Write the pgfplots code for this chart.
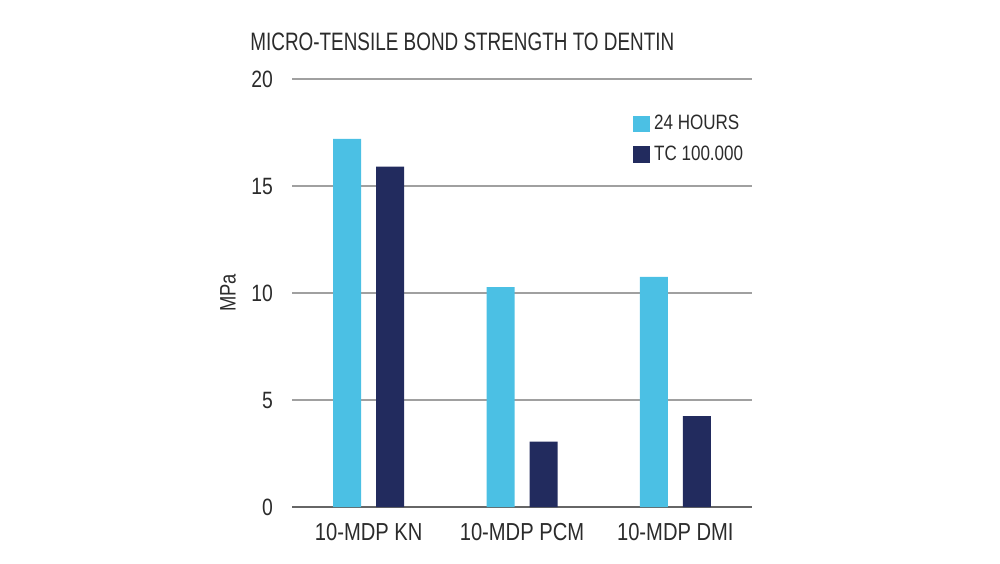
\documentclass[border=0pt]{standalone}
\usepackage{fontspec}
\setmainfont{Liberation Sans}[FakeStretch=0.82]
\newfontfamily\titlefont{Liberation Sans}[FakeStretch=0.75]
\usepackage{pgfplots}
\pgfplotsset{compat=1.18}
\definecolor{lightbar}{HTML}{4BC0E4}
\definecolor{darkbar}{HTML}{222B5E}
\definecolor{gridgray}{HTML}{A0A0A0}
\definecolor{txt}{HTML}{2B2B2B}

\begin{document}
\begin{tikzpicture}
\path[use as bounding box] (-146pt,-28pt) rectangle (354pt,253.5pt);
\begin{axis}[
	at={(0,0)}, anchor=south west,
	width=230pt, height=214pt, scale only axis,
	ybar=7.5pt, bar width=14pt,
	xmin=-0.5, xmax=2.5, ymin=0, ymax=20,
	xtick=data,
	xticklabels={10-MDP KN,10-MDP PCM,10-MDP DMI},
	ytick={0,5,10,15,20},
	/pgf/number format/assume math mode=true,
	major tick length=0pt,
	ymajorgrids,
	grid style={gridgray, line width=0.9pt},
	axis x line*=bottom, axis y line*=left,
	y axis line style={draw=none},
	x axis line style={draw=gray!80!black, line width=0.9pt, -},
	tick label style={text=txt},
	yticklabel style={font=\fontsize{11.8}{13}\selectfont, xshift=-6pt},
	xticklabel style={font=\fontsize{12.3}{14}\selectfont, yshift=-4.5pt},
	ylabel={MPa},
	ylabel style={at={(axis description cs:-0.139,0.5)}, anchor=center, font=\fontsize{11.2}{13}\selectfont, text=txt},
	title={MICRO-TENSILE BOND STRENGTH TO DENTIN},
	title style={at={(0,1)}, anchor=west, xshift=-21pt, yshift=12.5pt, font=\titlefont\fontsize{12.6}{15}\selectfont, text=txt, inner sep=0pt},
	legend style={at={(0.728,0.935)}, anchor=north west, draw=none, fill=none,
		font=\fontsize{10.4}{12}\selectfont, text=txt, row sep=2.5pt,
		/tikz/every even column/.append style={column sep=2pt}},
	legend cell align=left,
	legend image code/.code={\fill[#1] (0pt,-4.2pt) rectangle (8.4pt,4.2pt);},
]
\addplot[fill=lightbar, draw=none] coordinates {(0,17.2) (1,10.28) (2,10.75)};
\addplot[fill=darkbar, draw=none] coordinates {(0,15.9) (1,3.05) (2,4.25)};
\legend{24 HOURS, TC 100.000}
\end{axis}
\end{tikzpicture}
\end{document}
